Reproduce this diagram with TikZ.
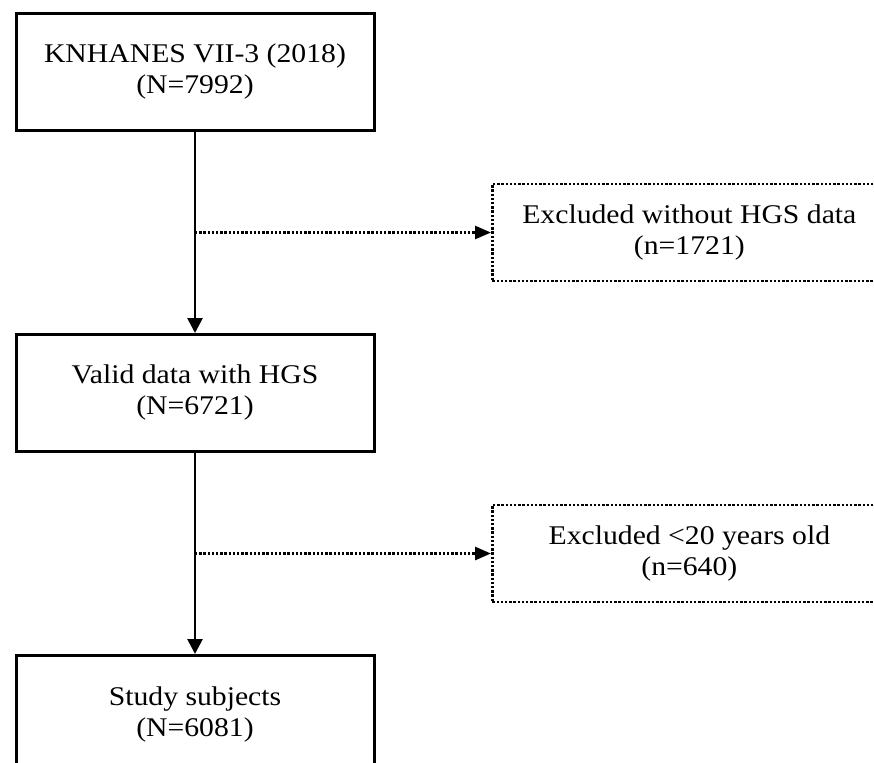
\documentclass[tikz,border=0pt]{standalone}
\usepackage{fontspec}
\setmainfont{Liberation Serif}[FakeStretch=1.1]
\usetikzlibrary{positioning,calc,arrows.meta}

\begin{document}
\begin{tikzpicture}[
            x=1pt, y=-1pt,
            node distance=201pt,
            font=\fontsize{27}{31}\selectfont,
            stage/.style={
                rectangle,
                minimum width=358pt,
                minimum height=117pt,
                align=center,
                draw=black,
                line width=3pt
            },
            excluded/.style={
                rectangle,
                minimum width=394pt,
                minimum height=97pt,
                align=center,
                draw=black,
                line width=2.7pt,
                dash pattern=on 2.4pt off 1.8pt
            },
            flow/.style={
                line width=2.7pt,
                -{Triangle[length=15pt,width=15pt]}
            },
            dropout/.style={
                line width=2.7pt,
                dash pattern=on 2.4pt off 1.8pt,
                -{Triangle[length=16pt,width=13pt]}
            }
        ]
            \useasboundingbox (0,0) rectangle (874,762);
            \clip (0,0) rectangle (874,762);
            \fill[white] (0,0) rectangle (874,762);

            % Define nodes
            \node[stage] (knhanes) at (195,72) {KNHANES VII-3 (2018)\\(N=7992)};
            \node[stage, below=of knhanes] (valid) {Valid data with HGS\\(N=6721)};
            \node[stage, below=of valid] (study) {Study subjects\\(N=6081)};

            \coordinate (split1) at ($(knhanes.south)!.5!(valid.north)$);
            \coordinate (split2) at ($(valid.south)!.5!(study.north)$);
            \node[excluded, right=296pt of split1] (nohgs) {Excluded without HGS data\\(n=1721)};
            \node[excluded, right=296pt of split2] (young) {Excluded <20 years old\\(n=640)};

            % Draw edges
            \draw[flow] (knhanes) -- (valid);
            \draw[flow] (valid) -- (study);
            \draw[dropout] (split1) -- (nohgs);
            \draw[dropout] (split2) -- (young);
        \end{tikzpicture}
\end{document}
